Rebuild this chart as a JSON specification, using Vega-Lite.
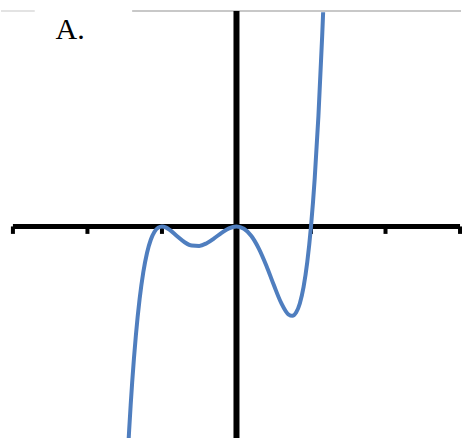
{
  "$schema": "https://vega.github.io/schema/vega-lite/v6.json",
  "width": 463,
  "height": 441,
  "autosize": {"type": "fit", "contains": "padding"},
  "padding": 0,
  "background": "white",
  "config": {"view": {"stroke": null}},
  "datasets": {
    "curve": [
      {"x": -1.45, "y": -2.907},
      {"x": -1.44, "y": -2.73},
      {"x": -1.42, "y": -2.399},
      {"x": -1.4, "y": -2.098},
      {"x": -1.35, "y": -1.462},
      {"x": -1.3, "y": -0.975},
      {"x": -1.25, "y": -0.612},
      {"x": -1.2, "y": -0.353},
      {"x": -1.15, "y": -0.178},
      {"x": -1.1, "y": -0.071},
      {"x": -1.05, "y": -0.016},
      {"x": -1.0, "y": 0.0},
      {"x": -0.95, "y": -0.012},
      {"x": -0.9, "y": -0.043},
      {"x": -0.8, "y": -0.128},
      {"x": -0.7, "y": -0.209},
      {"x": -0.6, "y": -0.257},
      {"x": -0.5, "y": -0.261},
      {"x": -0.4, "y": -0.225},
      {"x": -0.3, "y": -0.16},
      {"x": -0.2, "y": -0.086},
      {"x": -0.1, "y": -0.025},
      {"x": 0.0, "y": 0.0},
      {"x": 0.1, "y": -0.03},
      {"x": 0.2, "y": -0.128},
      {"x": 0.3, "y": -0.297},
      {"x": 0.4, "y": -0.524},
      {"x": 0.5, "y": -0.784},
      {"x": 0.6, "y": -1.027},
      {"x": 0.7, "y": -1.184},
      {"x": 0.75, "y": -1.2},
      {"x": 0.8, "y": -1.156},
      {"x": 0.85, "y": -1.034},
      {"x": 0.9, "y": -0.815},
      {"x": 0.95, "y": -0.478},
      {"x": 1.0, "y": 0.0},
      {"x": 1.05, "y": 0.646},
      {"x": 1.1, "y": 1.487},
      {"x": 1.15, "y": 2.556},
      {"x": 1.16, "y": 2.8},
      {"x": 1.163, "y": 2.875}
    ],
    "ticks": [
      {"x": -3}, {"x": -2}, {"x": -1}, {"x": 1}, {"x": 2}, {"x": 3}
    ],
    "one": [{}]
  },
  "layer": [
    {
      "data": {"name": "one"},
      "mark": {"type": "rule", "color": "#c8c8c8", "strokeWidth": 2, "opacity": 0.5},
      "encoding": {
        "x": {"datum": -3.16, "type": "quantitative", "scale": {"domain": [-3.16, 3.013], "nice": false, "zero": false}, "axis": null},
        "x2": {"datum": -2.707},
        "y": {"datum": 2.893, "type": "quantitative", "scale": {"domain": [-2.84, 3.04], "nice": false, "zero": false}, "axis": null}
      }
    },
    {
      "data": {"name": "one"},
      "mark": {"type": "rule", "color": "#c8c8c8", "strokeWidth": 2},
      "encoding": {
        "x": {"datum": -1.4, "type": "quantitative"},
        "x2": {"datum": 3.013},
        "y": {"datum": 2.893, "type": "quantitative"}
      }
    },
    {
      "data": {"name": "one"},
      "mark": {"type": "rule", "color": "black", "strokeWidth": 5},
      "encoding": {
        "x": {"datum": -3.0, "type": "quantitative"},
        "x2": {"datum": 3.0},
        "y": {"datum": 0, "type": "quantitative"}
      }
    },
    {
      "data": {"name": "ticks"},
      "mark": {"type": "rule", "color": "black", "strokeWidth": 4},
      "encoding": {
        "x": {"field": "x", "type": "quantitative"},
        "y": {"datum": 0, "type": "quantitative"},
        "y2": {"datum": -0.1}
      }
    },
    {
      "data": {"name": "one"},
      "mark": {"type": "rule", "color": "black", "strokeWidth": 6},
      "encoding": {
        "x": {"datum": 0, "type": "quantitative"},
        "y": {"datum": 2.893, "type": "quantitative"},
        "y2": {"datum": -2.84}
      }
    },
    {
      "data": {"name": "curve"},
      "mark": {"type": "line", "color": "#4f7ebf", "strokeWidth": 4, "interpolate": "monotone", "clip": true},
      "encoding": {
        "x": {"field": "x", "type": "quantitative"},
        "y": {"field": "y", "type": "quantitative"}
      }
    },
    {
      "data": {"name": "one"},
      "mark": {"type": "text", "text": "A.", "font": "Liberation Serif", "fontSize": 30, "align": "left", "baseline": "alphabetic", "color": "black"},
      "encoding": {
        "x": {"datum": -2.427, "type": "quantitative"},
        "y": {"datum": 2.52, "type": "quantitative"}
      }
    }
  ]
}
